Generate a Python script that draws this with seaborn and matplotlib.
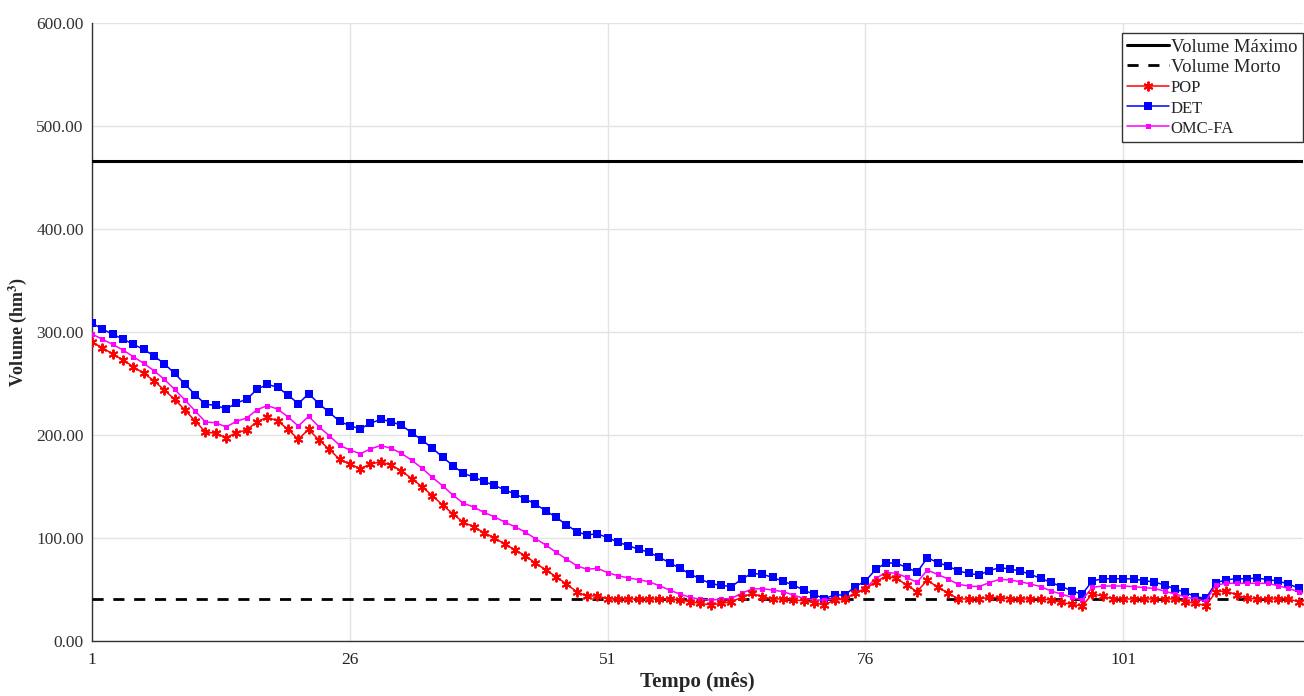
import numpy as np
import pandas as pd
import matplotlib
matplotlib.use("Agg")
import matplotlib.pyplot as plt
import seaborn as sns

# Reservoir storage limits (hm³)
volume_maximo = 466.0
volume_morto = 40.8

# Monthly simulated storage (hm³) for each operating policy
pop = [290.0, 284.8, 278.6, 272.8, 266.3, 259.9, 252.7, 243.7, 234.7, 224.3,
       213.6, 202.9, 201.6, 197.4, 202.2, 204.9, 212.9, 217.2, 213.6, 205.5,
       195.8, 205.5, 195.1, 186.1, 176.4, 171.8, 167.3, 171.8, 174.0, 170.6,
       165.3, 157.6, 149.8, 141.1, 132.0, 123.3, 115.2, 111.0, 105.1, 100.3,
       94.2, 88.6, 82.8, 75.7, 68.9, 62.4, 55.3, 47.9, 43.4, 44.0,
       40.8, 40.8, 40.8, 40.8, 40.8, 40.8, 40.8, 39.8, 38.2, 36.6,
       35.0, 36.6, 38.2, 42.4, 46.3, 43.0, 40.8, 40.8, 39.8, 39.1,
       37.2, 35.0, 39.8, 40.8, 46.3, 50.5, 57.6, 63.1, 60.8, 54.4,
       47.9, 59.2, 52.1, 46.9, 40.8, 40.8, 40.8, 42.4, 42.1, 40.8,
       40.8, 40.8, 40.8, 39.8, 37.5, 35.6, 34.0, 45.6, 43.7, 40.8,
       40.8, 40.8, 40.8, 40.8, 40.8, 40.8, 38.2, 36.6, 34.3, 47.9,
       48.5, 44.7, 41.4, 40.8, 40.8, 40.8, 40.8, 38.2, 38.0]

det = [308.4, 303.0, 297.7, 293.2, 288.0, 283.2, 276.7, 269.2, 259.9, 249.5,
       239.1, 229.8, 228.8, 225.2, 231.1, 234.7, 244.4, 249.2, 246.3, 238.8,
       230.4, 240.1, 230.4, 222.0, 213.3, 209.0, 206.0, 211.3, 215.3, 212.9,
       209.4, 202.2, 195.1, 187.1, 178.6, 170.2, 162.8, 159.2, 155.0, 151.1,
       146.9, 142.7, 138.2, 132.7, 126.5, 120.1, 112.9, 106.1, 102.9, 104.2,
       100.2, 96.0, 92.5, 89.2, 86.1, 81.3, 76.0, 70.6, 65.0, 60.2,
       55.6, 54.1, 52.7, 60.2, 65.7, 64.7, 61.8, 58.0, 54.4, 49.5,
       45.3, 41.1, 44.7, 44.7, 52.7, 58.3, 69.6, 76.0, 75.4, 71.5,
       66.6, 80.9, 76.1, 72.8, 68.0, 65.7, 64.1, 68.3, 71.2, 69.9,
       68.0, 64.7, 60.8, 56.9, 52.8, 48.9, 45.3, 58.3, 60.5, 60.5,
       60.5, 60.2, 58.6, 57.3, 54.4, 50.5, 47.2, 43.0, 41.4, 56.6,
       59.5, 60.5, 60.5, 61.2, 59.5, 58.3, 55.3, 51.5, 49.0]

omc_fa = [298.0, 292.9, 288.0, 282.5, 276.0, 269.6, 262.4, 254.1, 244.4, 234.0,
          223.3, 212.6, 211.9, 207.8, 213.3, 216.5, 224.6, 228.5, 225.2, 217.5,
          208.7, 218.1, 208.0, 199.3, 190.1, 185.4, 181.8, 186.5, 189.8, 187.1,
          182.2, 175.4, 167.7, 158.9, 150.5, 141.7, 133.7, 130.1, 124.9, 120.7,
          115.5, 111.0, 105.8, 99.3, 93.2, 86.1, 79.6, 73.1, 69.6, 70.6,
          66.3, 63.4, 61.3, 59.5, 57.6, 53.7, 49.5, 45.6, 42.4, 40.5,
          39.8, 40.5, 41.4, 46.3, 50.5, 50.8, 49.5, 47.9, 44.7, 41.4,
          39.8, 39.8, 40.8, 40.8, 46.9, 51.1, 60.8, 66.6, 65.7, 61.8,
          56.9, 68.9, 64.7, 60.2, 55.0, 53.4, 52.8, 56.6, 59.9, 59.2,
          57.6, 55.3, 52.8, 48.5, 45.6, 42.4, 39.8, 52.1, 53.4, 53.4,
          53.4, 52.8, 51.8, 51.1, 48.5, 45.6, 43.0, 40.5, 38.8, 54.4,
          56.0, 56.0, 56.0, 56.0, 56.0, 53.7, 51.1, 47.9, 45.0]

meses = list(range(1, len(pop) + 1))
x_ticks = [1, 26, 51, 76, 101]
y_ticks = [0, 100, 200, 300, 400, 500, 600]

sns.set_theme(style="white")
plt.rcParams["font.family"] = ["Liberation Serif", "DejaVu Serif"]
plt.rcParams["mathtext.fontset"] = "stix"

fig = plt.figure(figsize=(13.04, 6.96), dpi=100)
ax = fig.add_axes([0.0706, 0.079, 0.9284, 0.888])

# Storage limits
ax.axhline(volume_maximo, color="black", lw=2.2, label="Volume Máximo", zorder=3)
ax.axhline(volume_morto, color="black", lw=2.0, ls=(0, (4, 3.5)), label="Volume Morto", zorder=3)

# Policy trajectories (asterisk marker for POP)
asterisco = (6, 2, 0)
sns.lineplot(x=meses, y=pop, ax=ax, color="#ff0000", lw=1.1, marker=asterisco,
             markersize=7, markeredgewidth=1.4, markeredgecolor="#ff0000",
             label="POP", zorder=5)
sns.lineplot(x=meses, y=det, ax=ax, color="#0000ff", lw=1.1, marker="s",
             markersize=5.2, markeredgewidth=0, label="DET", zorder=4)
sns.lineplot(x=meses, y=omc_fa, ax=ax, color="#ff00ff", lw=1.1, marker="s",
             markersize=3.6, markeredgewidth=0, label="OMC-FA", zorder=4)

ax.set_xlim(1, 118.4)
ax.set_ylim(0, 600)
ax.set_xticks(x_ticks)
ax.set_xticklabels([str(t) for t in x_ticks])
ax.set_yticks(y_ticks)
ax.set_yticklabels([f"{t:.2f}" for t in y_ticks])

ax.grid(True, color="#e3e3e3", lw=1.0)
ax.set_axisbelow(True)
for side in ("top", "right"):
    ax.spines[side].set_visible(False)
for side in ("left", "bottom"):
    ax.spines[side].set_color("#333333")
    ax.spines[side].set_linewidth(1.0)

ax.tick_params(axis="y", direction="in", length=9, color="#999999",
               labelsize=12.5, pad=6, labelcolor="#333333")
ax.tick_params(axis="x", direction="in", length=0, labelsize=12.5, pad=8,
               labelcolor="#222222")

ax.set_xlabel("Tempo (mês)", fontsize=15, fontweight="bold", labelpad=3)
ax.set_ylabel("Volume (hm$^{\\mathbf{3}}$)", fontsize=13, fontweight="bold")
ax.yaxis.set_label_coords(-0.052, 0.5)

leg = ax.legend(loc="upper right", bbox_to_anchor=(1.0, 0.984), fontsize=13.5,
                frameon=True, fancybox=False, edgecolor="#333333", framealpha=1,
                borderaxespad=0.0, handlelength=2.2, handletextpad=0.1,
                labelspacing=0.17, borderpad=0.3)
leg.get_frame().set_linewidth(1.0)
for txt in leg.get_texts()[2:]:
    txt.set_fontsize(12)

fig.savefig("out.png", dpi=100)
